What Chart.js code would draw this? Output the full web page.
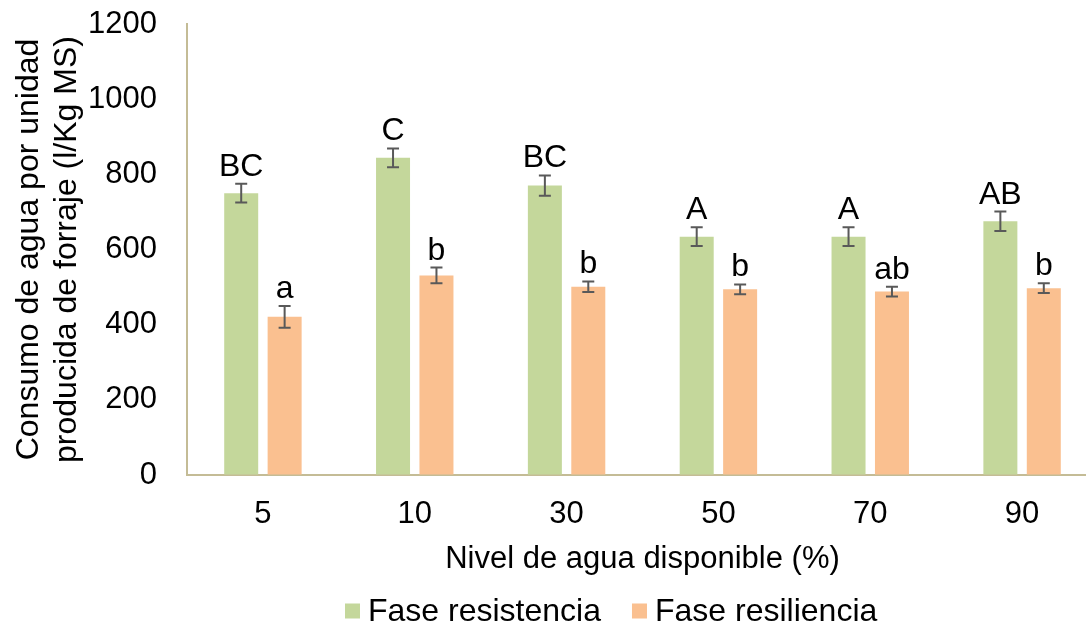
<!DOCTYPE html>
<html>
<head>
<meta charset="utf-8">
<script src="https://cdn.jsdelivr.net/npm/chart.js@4.4.1/dist/chart.umd.min.js"></script>
<style>
  html, body { margin: 0; padding: 0; background: #fff; overflow: hidden; }
  #wrap { width: 1100px; height: 626px; }
</style>
</head>
<body>
<div id="wrap"><canvas id="chart" width="1100" height="626"></canvas></div>
<script>
// Nivel de agua disponible (%)
const categories = ['5', '10', '30', '50', '70', '90'];

// Fase resistencia: media, error y letras de significancia
const resistencia = [750, 844, 770, 634, 634, 675];
const resistenciaErr = [25, 25, 27, 25, 25, 26];
const resistenciaLetters = ['BC', 'C', 'BC', 'A', 'A', 'AB'];

// Fase resiliencia: media, error y letras de significancia
const resiliencia = [421, 531, 501, 494, 488, 497];
const resilienciaErr = [29, 21, 14, 13, 13, 13];
const resilienciaLetters = ['a', 'b', 'b', 'b', 'ab', 'b'];

// Eje Y
const yMin = 0, yMax = 1200, yStep = 200;

const FONT = '"Liberation Sans", Arial, sans-serif';
const GREEN = '#c4d79b';
const ORANGE = '#fac090';
const AXIS = '#c4bc96';

// Barras de error y letras sobre cada barra
const errorBarsAndLetters = {
  id: 'errorBarsAndLetters',
  afterDatasetsDraw(chart) {
    const ctx = chart.ctx;
    const y = chart.scales.y;
    chart.data.datasets.forEach((ds, di) => {
      const meta = chart.getDatasetMeta(di);
      meta.data.forEach((bar, i) => {
        const v = ds.data[i], e = ds.errors[i];
        const yTop = y.getPixelForValue(v + e);
        const yBot = y.getPixelForValue(v - e);
        ctx.save();
        ctx.strokeStyle = '#595959';
        ctx.lineWidth = 2;
        ctx.beginPath();
        ctx.moveTo(bar.x, yTop); ctx.lineTo(bar.x, yBot);
        ctx.moveTo(bar.x - 6, yTop); ctx.lineTo(bar.x + 6, yTop);
        ctx.moveTo(bar.x - 6, yBot); ctx.lineTo(bar.x + 6, yBot);
        ctx.stroke();
        ctx.fillStyle = '#000';
        ctx.font = '32px ' + FONT;
        ctx.textAlign = 'center';
        ctx.textBaseline = 'alphabetic';
        ctx.fillText(ds.letters[i], bar.x, yTop - 8);
        ctx.restore();
      });
    });
  }
};

// Leyenda inferior
const bottomLegend = {
  id: 'bottomLegend',
  afterDraw(chart) {
    const ctx = chart.ctx;
    const cy = 611, box = 15, gapText = 8, gapItem = 31;
    let x = 345;
    ctx.save();
    ctx.font = '32px ' + FONT;
    ctx.textBaseline = 'middle';
    ctx.textAlign = 'left';
    chart.data.datasets.forEach(ds => {
      ctx.fillStyle = ds.backgroundColor;
      ctx.fillRect(x, cy - box / 2, box, box);
      x += box + gapText;
      ctx.fillStyle = '#000';
      ctx.fillText(ds.label, x, cy + 1);
      x += ctx.measureText(ds.label).width + gapItem;
    });
    ctx.restore();
  }
};

new Chart(document.getElementById('chart'), {
  type: 'bar',
  data: {
    labels: categories,
    datasets: [
      {
        label: 'Fase resistencia',
        data: resistencia,
        errors: resistenciaErr,
        letters: resistenciaLetters,
        backgroundColor: GREEN,
        borderWidth: 0,
        barPercentage: 0.783,
        categoryPercentage: 0.572
      },
      {
        label: 'Fase resiliencia',
        data: resiliencia,
        errors: resilienciaErr,
        letters: resilienciaLetters,
        backgroundColor: ORANGE,
        borderWidth: 0,
        barPercentage: 0.783,
        categoryPercentage: 0.572
      }
    ]
  },
  options: {
    responsive: false,
    animation: false,
    events: [],
    layout: { padding: { top: 24, right: 2, bottom: 48, left: 0 } },
    plugins: {
      legend: { display: false },
      tooltip: { enabled: false }
    },
    scales: {
      x: {
        grid: { display: false, drawTicks: false },
        border: { display: true, color: AXIS, width: 2 },
        ticks: { color: '#000', font: { family: FONT, size: 31 }, padding: 21 },
        title: {
          display: true,
          text: 'Nivel de agua disponible (%)',
          color: '#000',
          font: { family: FONT, size: 31 },
          padding: { top: 0, bottom: 0 }
        },
        afterFit(scale) { scale.height = 103; }
      },
      y: {
        min: yMin,
        max: yMax,
        grid: {
          display: true,
          drawOnChartArea: false,
          drawTicks: true,
          tickLength: 30,
          color: 'rgba(0,0,0,0)'
        },
        border: { display: true, color: AXIS, width: 2 },
        ticks: {
          stepSize: yStep,
          color: '#000',
          font: { family: FONT, size: 31 },
          padding: 0,
          callback: (value) => String(value)
        },
        title: {
          display: true,
          text: ['Consumo de agua por unidad', 'producida de forraje (l/Kg MS)'],
          color: '#000',
          font: { family: FONT, size: 32 },
          padding: { top: 10, bottom: 0 }
        },
        afterFit(scale) { scale.width = 187; }
      }
    }
  },
  plugins: [errorBarsAndLetters, bottomLegend]
});
</script>
</body>
</html>
